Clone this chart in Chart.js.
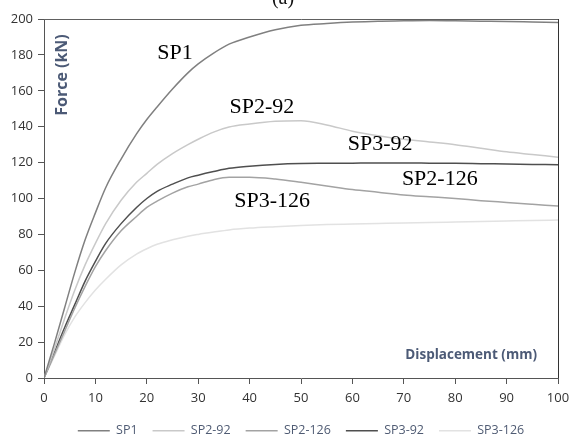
<!DOCTYPE html>
<html>
<head>
<meta charset="utf-8">
<script src="https://cdn.jsdelivr.net/npm/chart.js@4/dist/chart.umd.min.js"></script>
<style>
  html, body { margin: 0; padding: 0; background: #fff; }
  #wrap { width: 569px; height: 439px; }
</style>
</head>
<body>
<div id="wrap"><canvas id="forceChart" width="569" height="439"></canvas></div>
<script>
// Displacement steps (mm) shared by every curve
const displacement = [0, 2, 4, 6, 8, 10, 12, 15, 18, 20, 22, 25, 28, 30, 33, 36, 40, 45, 50, 55, 60, 65, 70, 75, 80, 85, 90, 95, 100];

// Force (kN) for each specimen
const sp1 = [0, 19, 39, 59, 77, 92, 106, 122, 136, 144, 151, 161, 170, 175, 181, 186, 190, 194, 196.5, 197.5, 198.3, 198.8, 199, 199.2, 199, 198.8, 198.6, 198.3, 198];
const sp2_92 = [0, 16, 33, 49, 63, 75, 86, 99, 109, 114, 119, 125, 130, 133, 137, 139.8, 141.5, 143, 143.3, 141, 137.5, 135, 133, 131.5, 130, 128, 126, 124.5, 123];
const sp2_126 = [0, 13, 26, 39, 51, 62, 71, 82, 90, 95, 98.5, 103, 106.5, 108, 110.5, 111.8, 111.8, 110.8, 109, 107, 105, 103.5, 102, 101, 100, 98.8, 97.8, 96.8, 95.8];
const sp3_92 = [0, 14, 28, 41, 54, 65, 75, 86, 95, 100, 104, 108, 111.5, 113, 115, 116.8, 118, 119, 119.5, 119.6, 119.7, 119.8, 119.8, 119.7, 119.6, 119.4, 119.2, 119, 118.8];
const sp3_126 = [0, 12, 24, 34, 42, 49, 55, 63, 69, 72, 74.5, 77, 79, 80, 81.3, 82.5, 83.5, 84.3, 85, 85.5, 85.8, 86.1, 86.4, 86.6, 86.9, 87.2, 87.5, 87.8, 88];

const seriesNames = ["SP1", "SP2-92", "SP2-126", "SP3-92", "SP3-126"];
const seriesValues = [sp1, sp2_92, sp2_126, sp3_92, sp3_126];
const seriesColors = ["#808080", "#c9c9c9", "#a3a3a3", "#4f4f4f", "#e2e2e2"];

// curve labels, placed in data units
const curveLabels = ["SP1", "SP2-92", "SP3-92", "SP2-126", "SP3-126"];
const curveLabelX = [25.5, 42.4, 65.4, 77, 44.4];
const curveLabelY = [181, 151, 130.4, 110.9, 98.6];

const serif = "'Liberation Serif', 'Times New Roman', serif";
const sans = "'Open Sans', 'Liberation Sans', sans-serif";
const titleColor = "#4c5a76";

const datasets = seriesNames.map((name, i) => ({
  label: name,
  data: displacement.map((d, j) => ({ x: d, y: seriesValues[i][j] })),
  borderColor: seriesColors[i],
  backgroundColor: seriesColors[i],
  borderWidth: 1.5,
  pointRadius: 0,
  cubicInterpolationMode: "monotone",
  fill: false,
}));

// frame, axis titles and curve labels
const decorations = {
  id: "decorations",
  afterDraw(chart) {
    const { ctx, chartArea: a, scales } = chart;
    ctx.save();
    ctx.strokeStyle = "#606060";
    ctx.lineWidth = 1;
    ctx.beginPath();
    ctx.moveTo(a.left, a.top + 0.5);
    ctx.lineTo(a.right + 0.5, a.top + 0.5);
    ctx.stroke();
    ctx.strokeStyle = "#333";
    ctx.beginPath();
    ctx.moveTo(a.right + 0.5, a.top);
    ctx.lineTo(a.right + 0.5, a.bottom);
    ctx.stroke();

    // "(a)" heading, mostly above the canvas edge
    ctx.fillStyle = "#111";
    ctx.font = "20px " + serif;
    ctx.textAlign = "center";
    ctx.textBaseline = "alphabetic";
    ctx.fillText("(a)", 283, 4);

    // axis titles inside the plot
    ctx.fillStyle = titleColor;
    ctx.font = "bold 16px " + sans;
    ctx.save();
    ctx.translate(a.left + 18, a.top + 56);
    ctx.rotate(-Math.PI / 2);
    ctx.textAlign = "center";
    ctx.textBaseline = "middle";
    ctx.fillText("Force (kN)", 0, 0);
    ctx.restore();

    ctx.font = "bold 13.5px " + sans;
    ctx.textAlign = "right";
    ctx.textBaseline = "middle";
    ctx.fillText("Displacement (mm)", a.right - 21, a.bottom - 23);

    ctx.fillStyle = "#000";
    ctx.font = "22px " + serif;
    ctx.textAlign = "center";
    ctx.textBaseline = "middle";
    curveLabels.forEach((t, i) => {
      ctx.fillText(t, scales.x.getPixelForValue(curveLabelX[i]), scales.y.getPixelForValue(curveLabelY[i]));
    });
    ctx.restore();
  },
};

new Chart(document.getElementById("forceChart"), {
  type: "line",
  data: { datasets },
  options: {
    responsive: false,
    animation: false,
    layout: { padding: { top: 19, right: 11, left: 0, bottom: -8 } },
    plugins: {
      tooltip: { enabled: false },
      legend: {
        position: "bottom",
        fullSize: false,
        labels: {
          usePointStyle: true,
          pointStyle: "line",
          pointStyleWidth: 32,
          padding: 15,
          color: "#4f5b73",
          font: { family: sans, size: 12.5 },
        },
      },
    },
    scales: {
      x: {
        type: "linear",
        min: 0,
        max: 100,
        ticks: { stepSize: 10, color: "#333", padding: 6, font: { family: sans, size: 13 } },
        grid: { drawOnChartArea: false, tickLength: 6, color: "#555" },
        border: { color: "#555", width: 1 },
        afterFit(s) {
          s.height = 31.5;
          s.paddingLeft = 0;
          s.paddingRight = 0;
        },
      },
      y: {
        min: 0,
        max: 200,
        ticks: { stepSize: 20, color: "#333", padding: 5, font: { family: sans, size: 13 } },
        grid: { drawOnChartArea: false, tickLength: 6, color: "#555" },
        border: { color: "#555", width: 1 },
        afterFit(s) {
          s.width = 44;
        },
      },
    },
  },
  plugins: [decorations],
});
</script>
</body>
</html>
